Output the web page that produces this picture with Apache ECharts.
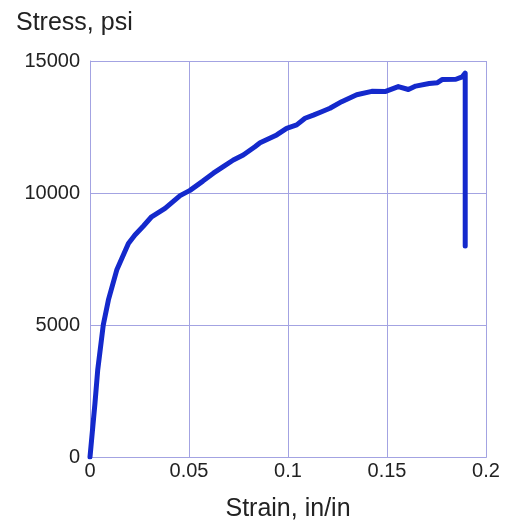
<!DOCTYPE html>
<html>
<head>
<meta charset="utf-8">
<script src="https://cdn.jsdelivr.net/npm/echarts@6/dist/echarts.min.js"></script>
<style>
html,body{margin:0;padding:0;background:#fff;}
#chart{width:510px;height:527px;}
</style>
</head>
<body>
<div id="chart"></div>
<script>
var strain = [0, 0.0025, 0.0039, 0.0067, 0.0093, 0.0135, 0.0194, 0.0227, 0.0270, 0.0311, 0.0379, 0.0455, 0.0505, 0.0570, 0.0623, 0.0673, 0.0724, 0.0774, 0.0833, 0.0859, 0.0943, 0.0993, 0.1044, 0.1086, 0.1128, 0.1170, 0.1212, 0.1271, 0.1347, 0.1423, 0.1490, 0.1557, 0.1608, 0.1645, 0.1713, 0.1755, 0.1780, 0.1848, 0.1880, 0.1895, 0.1895];
var stress = [0, 2030, 3300, 5000, 5950, 7080, 8090, 8410, 8750, 9100, 9420, 9900, 10100, 10450, 10750, 11000, 11250, 11440, 11750, 11900, 12200, 12450, 12580, 12830, 12950, 13080, 13210, 13460, 13720, 13850, 13840, 14030, 13920, 14050, 14150, 14180, 14300, 14310, 14400, 14540, 7990];
var xTicks = [0, 0.05, 0.1, 0.15, 0.2];
var yTicks = [0, 5000, 10000, 15000];

var data = strain.map(function (s, i) { return [s, stress[i]]; });
var gridColor = '#a3a3e2';
var font = '"Liberation Sans", Arial, sans-serif';

var chart = echarts.init(document.getElementById('chart'), null, {renderer: 'canvas'});
chart.setOption({
  animation: false,
  backgroundColor: '#ffffff',
  title: {
    text: 'Stress, psi',
    left: 11,
    top: 6,
    textStyle: {fontFamily: font, fontSize: 25, fontWeight: 'normal', color: '#222'}
  },
  grid: {left: 90, right: 24, top: 61, bottom: 70, containLabel: false},
  xAxis: {
    type: 'value',
    min: xTicks[0],
    max: xTicks[xTicks.length - 1],
    interval: 0.05,
    name: 'Strain, in/in',
    nameLocation: 'middle',
    nameGap: 40,
    nameTextStyle: {fontFamily: font, fontSize: 25, color: '#222'},
    axisLine: {show: true, lineStyle: {color: gridColor, width: 1}},
    axisTick: {show: false},
    splitLine: {show: true, lineStyle: {color: gridColor, width: 1}},
    axisLabel: {fontFamily: font, fontSize: 20, color: '#222', margin: 4,
      formatter: function (v) { return String(v); }}
  },
  yAxis: {
    type: 'value',
    min: yTicks[0],
    max: yTicks[yTicks.length - 1],
    interval: 5000,
    axisLine: {show: true, lineStyle: {color: gridColor, width: 1}},
    axisTick: {show: false},
    splitLine: {show: true, lineStyle: {color: gridColor, width: 1}},
    axisLabel: {fontFamily: font, fontSize: 20, color: '#222', margin: 10,
      formatter: function (v) { return String(v); }}
  },
  graphic: [{
    type: 'rect',
    shape: {x: 90.5, y: 61.5, width: 396, height: 396},
    style: {fill: 'none', stroke: gridColor, lineWidth: 1},
    silent: true
  }],
  series: [{
    type: 'line',
    data: data,
    showSymbol: false,
    smooth: false,
    lineStyle: {color: '#1429cc', width: 5, join: 'round', cap: 'round'},
    z: 5
  }]
});
</script>
</body>
</html>
